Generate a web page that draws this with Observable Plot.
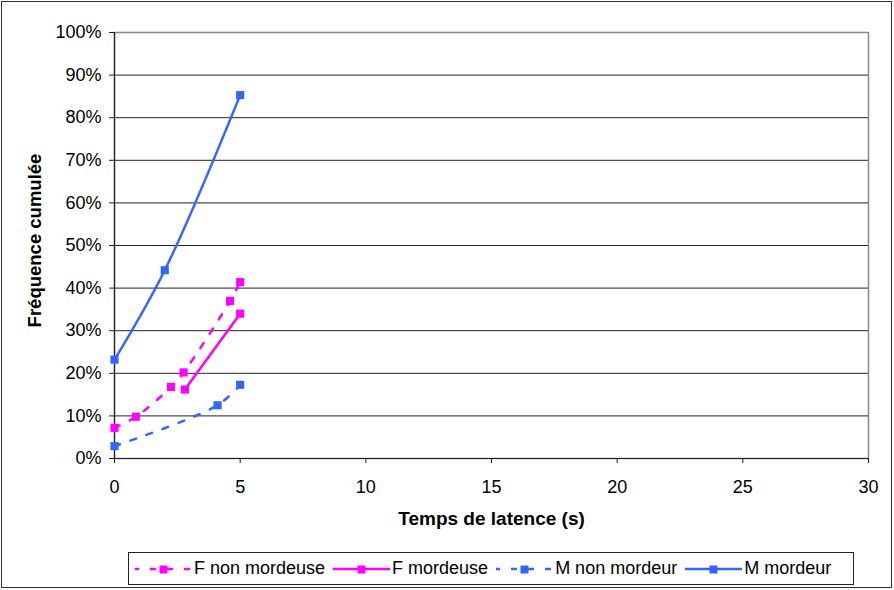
<!DOCTYPE html>
<html>
<head>
<meta charset="utf-8">
<script src="https://cdn.jsdelivr.net/npm/d3@7"></script>
<script src="https://cdn.jsdelivr.net/npm/@observablehq/plot@0.6"></script>
<style>
  html, body { margin: 0; padding: 0; background: #fff; }
  #chart { position: relative; width: 894px; height: 590px; font-family: "Liberation Sans", Arial, sans-serif; }
  #outer { position: absolute; left: 1px; top: 1px; width: 891px; height: 587px; box-sizing: border-box; border: 1px solid #333; pointer-events: none; }
  #plot { position: absolute; left: 0; top: 0; }
  #legend { position: absolute; left: 128px; top: 552px; width: 726px; height: 33px; box-sizing: border-box;
            border: 1px solid #222; display: flex; align-items: center; padding-left: 6px; font-size: 18px; color: #000; background: #fff; }
  #legend .item { display: flex; align-items: center; margin-right: 8px; }
  #legend .item span { margin-left: 2px; white-space: nowrap; }
</style>
</head>
<body>
<div id="chart">
  <div id="plot"></div>
  <div id="legend"></div>
  <div id="outer"></div>
</div>
<script>
// Cumulative frequency (%) against latency time (s), one pair of arrays per group
const seriesNames = ["F non mordeuse", "F mordeuse", "M non mordeur", "M mordeur"];
const seriesColors = ["#FF00FF", "#FF00FF", "#3366FF", "#3366FF"];
const seriesDashed = [true, false, true, false];

const fNonMordeuseTime = [0, 0.85, 2.25, 2.75, 4.6, 5];
const fNonMordeuseFreq = [7.2, 9.8, 16.8, 20.2, 37, 41.4];
const fMordeuseTime = [2.8, 5];
const fMordeuseFreq = [16.2, 34];
const mNonMordeurTime = [0, 4.1, 5];
const mNonMordeurFreq = [2.9, 12.5, 17.3];
const mMordeurTime = [0, 2, 5];
const mMordeurFreq = [23.2, 44.2, 85.3];

const xTicks = [0, 5, 10, 15, 20, 25, 30];
const yTicks = [0, 10, 20, 30, 40, 50, 60, 70, 80, 90, 100];
const xTitle = "Temps de latence (s)";
const yTitle = "Fréquence cumulée";

const times = [fNonMordeuseTime, fMordeuseTime, mNonMordeurTime, mMordeurTime];
const freqs = [fNonMordeuseFreq, fMordeuseFreq, mNonMordeurFreq, mMordeurFreq];
const rows = seriesNames.map((name, i) =>
  times[i].map((t, j) => ({series: name, t, f: freqs[i][j]}))
);

const lineMarks = rows.map((data, i) =>
  Plot.line(data, {
    x: "t", y: "f", stroke: seriesColors[i], strokeWidth: 2.5,
    strokeDasharray: seriesDashed[i] ? "6,11" : null,
    curve: "catmull-rom"
  })
);
const dotMarks = rows.map((data, i) =>
  Plot.dot(data, {x: "t", y: "f", symbol: "square", r: 4.6, fill: seriesColors[i], stroke: "none"})
);

const plot = Plot.plot({
  width: 894,
  height: 545,
  marginTop: 32,
  marginBottom: 87,
  marginLeft: 114,
  marginRight: 26,
  style: {fontFamily: "'Liberation Sans', Arial, sans-serif", fontSize: "18px", color: "#000", background: "transparent"},
  x: {domain: [0, 30]},
  y: {domain: [0, 100]},
  marks: [
    Plot.ruleY(yTicks.filter(d => d > 0 && d < 100), {stroke: "#222", strokeWidth: 1}),
    Plot.frame({stroke: "#888", strokeWidth: 1.5}),
    Plot.ruleX([0], {stroke: "#222", strokeWidth: 1.2}),
    Plot.ruleY([0], {stroke: "#222", strokeWidth: 1.2}),
    Plot.axisY({ticks: yTicks, tickSize: 5, tickPadding: 8, tickFormat: d => d + "%", label: null, stroke: "#222"}),
    Plot.axisX({ticks: xTicks, tickSize: 5, tickPadding: 17, tickFormat: d => String(d), label: null, stroke: "#222"}),
    Plot.text([xTitle], {frameAnchor: "bottom", dy: 66, fontWeight: "bold", fontSize: 19, fill: "#000"}),
    Plot.text([yTitle], {frameAnchor: "left", textAnchor: "middle", rotate: -90, dx: -79, dy: -5, fontWeight: "bold", fontSize: 18.5, fill: "#000"}),
    ...lineMarks,
    ...dotMarks
  ]
});
document.getElementById("plot").append(plot);

// Legend: line sample with a square marker, then the series name
const legend = d3.select("#legend");
seriesNames.forEach((name, i) => {
  const item = legend.append("div").attr("class", "item");
  const svg = item.append("svg").attr("width", 57).attr("height", 20);
  svg.append("line")
    .attr("x1", 0).attr("x2", 57).attr("y1", 10).attr("y2", 10)
    .attr("stroke", seriesColors[i]).attr("stroke-width", 2.5)
    .attr("stroke-dasharray", seriesDashed[i] ? "6,11" : null)
    .attr("stroke-dashoffset", seriesDashed[i] ? 2 : null);
  svg.append("rect")
    .attr("x", 24.5).attr("y", 6.5).attr("width", 8).attr("height", 8)
    .attr("fill", seriesColors[i]);
  item.append("span").text(name);
});
</script>
</body>
</html>
